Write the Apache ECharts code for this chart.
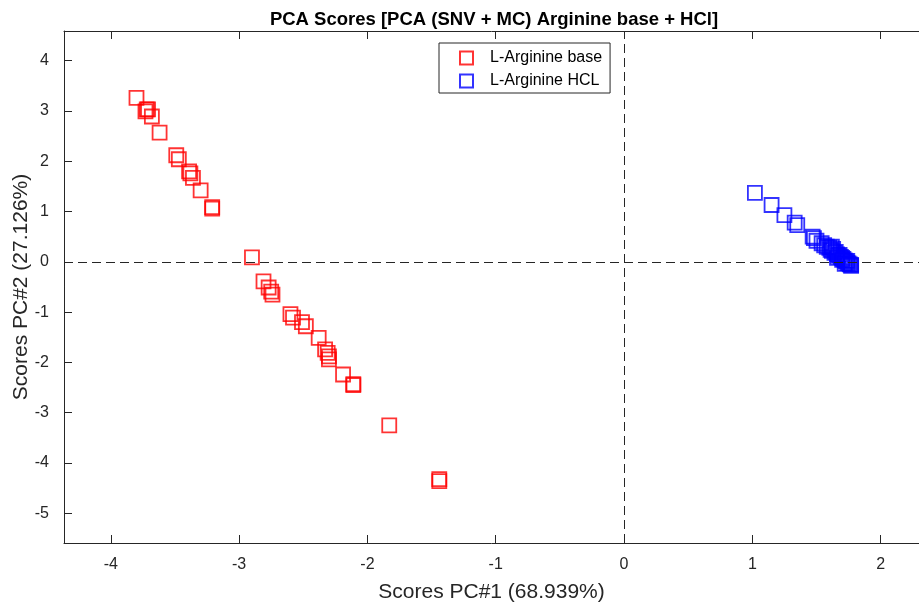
<!DOCTYPE html>
<html>
<head>
<meta charset="utf-8">
<script src="https://cdn.jsdelivr.net/npm/echarts@6/dist/echarts.min.js"></script>
<style>html,body{margin:0;padding:0;background:#fff}#c{width:919px;height:610px}</style>
</head>
<body>
<div id="c"></div>
<script>
var baseX = [-3.80,-3.72,-3.73,-3.71,-3.68,-3.62,-3.49,-3.47,-3.39,-3.38,-3.36,-3.30,-3.21,-3.21,
  -2.90,-2.81,-2.77,-2.75,-2.74,-2.60,-2.58,-2.51,-2.48,-2.38,-2.33,-2.31,-2.30,-2.30,-2.19,-2.11,-2.11,-1.83,-1.44,-1.44];
var baseY = [3.26,3.03,2.99,3.03,2.89,2.57,2.12,2.04,1.80,1.76,1.67,1.42,1.09,1.06,
  0.09,-0.39,-0.51,-0.59,-0.65,-1.04,-1.11,-1.20,-1.28,-1.51,-1.74,-1.81,-1.88,-1.94,-2.24,-2.43,-2.45,-3.25,-4.32,-4.36];
var hclX = [1.02,1.15,1.25,1.33,1.35,1.47,1.48,1.50,1.54,1.56,1.58,1.60,1.61,1.62,1.63,1.64,1.65,1.66,1.67,1.68,
  1.69,1.70,1.70,1.71,1.72,1.73,1.74,1.74,1.75,1.76,1.77,1.77,1.66,1.72,1.62];
var hclY = [1.37,1.13,0.93,0.78,0.73,0.50,0.47,0.42,0.37,0.33,0.30,0.28,0.24,0.22,0.26,0.18,0.20,0.15,0.12,0.14,
  0.10,0.08,0.04,0.06,0.03,0.01,0.02,-0.02,-0.03,-0.05,-0.06,-0.08,0.08,-0.04,0.30];
var xTicks = [-4,-3,-2,-1,0,1,2];
var yTicks = [-5,-4,-3,-2,-1,0,1,2,3,4];
var seriesNames = ['L-Arginine base','L-Arginine HCL'];
var titleText = 'PCA Scores [PCA (SNV + MC) Arginine base + HCl]';
var xName = 'Scores PC#1 (68.939%)';
var yName = 'Scores PC#2 (27.126%)';

function zip(a,b){return a.map(function(v,i){return [v,b[i]];});}
var FONT = "'Liberation Sans', Arial, sans-serif";
var AX = '#262626';

var chart = echarts.init(document.getElementById('c'), null, {renderer:'canvas'});
var xMin=-4.365, xMax=2.299, yMin=-5.59, yMax=4.59;
chart.setOption({
  animation:false,
  backgroundColor:'#fff',
  title:{text:titleText,left:489,textAlign:'center',top:5,textStyle:{fontFamily:FONT,fontSize:18.5,fontWeight:'bold',color:'#000'}},
  grid:{left:64,top:31,right:0,height:512,containLabel:false,outerBoundsMode:'none'},
  legend:{orient:'vertical',left:439,top:43,padding:[7,8,4,20],itemGap:7,itemWidth:13,itemHeight:13,
    borderColor:AX,borderWidth:1,backgroundColor:'#fff',
    textStyle:{fontFamily:FONT,fontSize:16,color:'#000',padding:[0,0,0,12]},
    data:seriesNames.map(function(n){return {name:n,icon:'rect'};})},
  xAxis:[{type:'value',min:xMin,max:xMax,position:'bottom',name:xName,nameLocation:'middle',nameGap:39,nameMoveOverlap:false,
    nameTextStyle:{fontFamily:FONT,fontSize:21,color:'#262626'},
    axisLine:{show:true,onZero:false,lineStyle:{color:AX,width:1}},
    axisTick:{show:true,inside:true,length:8,customValues:xTicks,lineStyle:{color:AX}},
    axisLabel:{customValues:xTicks,margin:14,fontFamily:FONT,fontSize:16,color:AX},
    splitLine:{show:false}},
   {type:'value',min:xMin,max:xMax,position:'top',
    axisLine:{show:true,onZero:false,lineStyle:{color:AX,width:1}},
    axisTick:{show:true,inside:true,length:8,customValues:xTicks,lineStyle:{color:AX}},
    axisLabel:{show:false},splitLine:{show:false}}],
  yAxis:[{type:'value',min:yMin,max:yMax,position:'left',name:yName,nameLocation:'middle',nameGap:32,nameRotate:90,nameMoveOverlap:false,
    nameTextStyle:{fontFamily:FONT,fontSize:21,color:'#262626'},
    axisLine:{show:true,onZero:false,lineStyle:{color:AX,width:1}},
    axisTick:{show:true,inside:true,length:8,customValues:yTicks,lineStyle:{color:AX}},
    axisLabel:{customValues:yTicks,margin:15,fontFamily:FONT,fontSize:16,color:AX},
    splitLine:{show:false}}],
  series:[
    {name:seriesNames[0],type:'scatter',data:zip(baseX,baseY),symbol:'rect',symbolSize:14,
     itemStyle:{color:'rgba(255,255,255,0)',borderColor:'#ff0000',borderWidth:1.8},
     markLine:{silent:true,symbol:'none',label:{show:false},animation:false,
       lineStyle:{color:AX,type:[9,5],width:1},
       data:[{xAxis:0},{yAxis:0}]}},
    {name:seriesNames[1],type:'scatter',data:zip(hclX,hclY),symbol:'rect',symbolSize:14,
     itemStyle:{color:'rgba(255,255,255,0)',borderColor:'#0000ff',borderWidth:1.8}}
  ]
});
</script>
</body>
</html>
